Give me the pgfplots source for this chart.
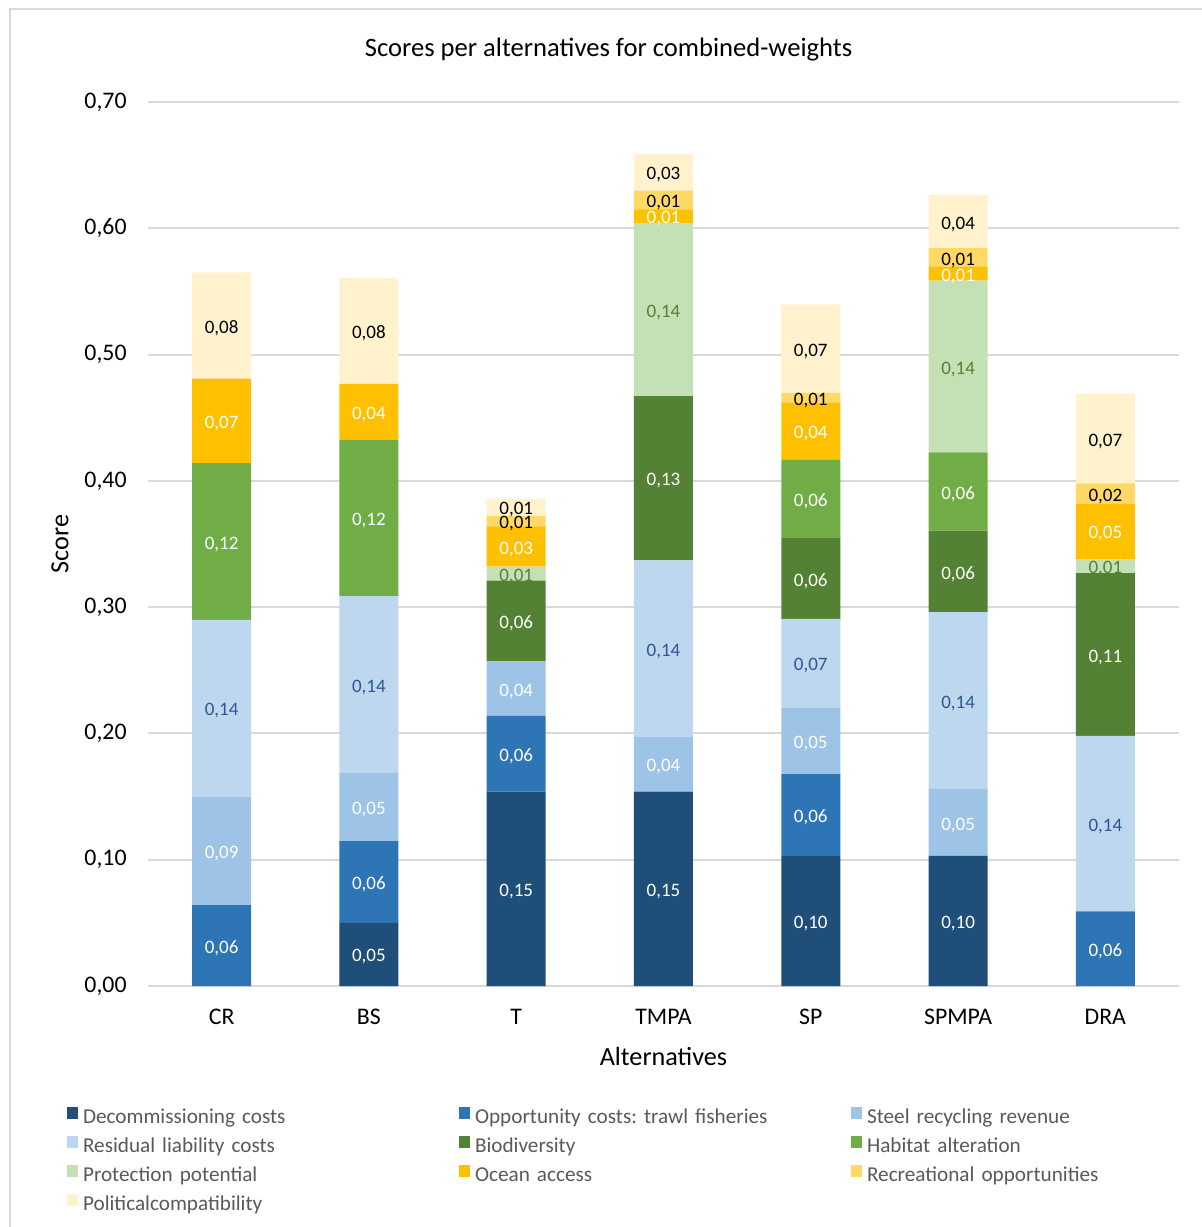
\documentclass[border=0pt]{standalone}
\usepackage{fontspec}
\setmainfont{Carlito}
\usepackage{pgfplots}
\usepackage{pgfplotstable}
\pgfplotsset{compat=1.18}
\frenchspacing
\definecolor{cdec}{HTML}{1F4E79}
\definecolor{copp}{HTML}{2E75B6}
\definecolor{cste}{HTML}{9DC3E6}
\definecolor{cres}{HTML}{BDD7EE}
\definecolor{cbio}{HTML}{548235}
\definecolor{chab}{HTML}{70AD47}
\definecolor{cpro}{HTML}{C5E0B4}
\definecolor{coce}{HTML}{FFC000}
\definecolor{crec}{HTML}{FFD966}
\definecolor{cpol}{HTML}{FFF2CC}
\definecolor{tres}{HTML}{2F5597}
\definecolor{tpro}{HTML}{548235}
\definecolor{gridc}{HTML}{D9D9D9}
\definecolor{legt}{HTML}{595959}

% x: 0=CR 1=BS 2=T 3=TMPA 4=SP 5=SPMPA 6=DRA
\pgfplotstableread{
x dec   opp    ste   res   bio    bioL hab   pro   oce   oceL rec    pol
0 0     0.064  0.086 0.140 0      0    0.124 0     0.067 0.07 0      0.084
1 0.050 0.0647 0.054 0.140 0      0    0.124 0     0.044 0.04 0      0.084
2 0.154 0.060  0.043 0     0.064  0.06 0     0.011 0.032 0.03 0.008  0.014
3 0.154 0      0.043 0.140 0.130  0.13 0     0.137 0.011 0.01 0.0148 0.029
4 0.103 0.0647 0.053 0.070 0.064  0.06 0.062 0     0.045 0.04 0.008  0.070
5 0.103 0      0.053 0.140 0.0645 0.06 0.062 0.136 0.011 0.01 0.0148 0.042
6 0     0.059  0     0.139 0.129  0.11 0     0.011 0.044 0.05 0.016  0.071
}\data

\pgfplotsset{
  seg/.style 2 args={
    fill=#1, draw=none,
    every node near coord/.append style={text=#2},
  },
}

\begin{document}
\begin{tikzpicture}
\begin{axis}[name=ax,
  scale only axis, width=515.5pt, height=442pt,
  ybar stacked, bar width=29.5pt,
  xmin=-0.5, xmax=6.5, ymin=0, ymax=0.7,
  xtick={0,1,2,3,4,5,6}, xticklabels={CR,BS,T,TMPA,SP,SPMPA,DRA},
  ytick={0,0.1,0.2,0.3,0.4,0.5,0.6,0.7},
  ymajorgrids, grid style={gridc, line width=1pt},
  axis line style={draw=none}, major tick length=0pt,
  /pgf/number format/assume math mode=true,
  point meta=explicit,
  nodes near coords={\pgfmathfloatifflags{\pgfplotspointmeta}{0}{}{\pgfmathprintnumber[fixed,fixed zerofill,precision=2,use comma]{\pgfplotspointmeta}}},
  every node near coord/.append style={anchor=center, yshift=-1.3pt, font=\fontsize{9.5}{10}\selectfont, inner sep=0pt},
  yticklabel style={/pgf/number format/.cd, fixed, fixed zerofill, precision=2, use comma, /tikz/.cd, font=\fontsize{11.9}{14}\selectfont, anchor=east, inner xsep=0pt, xshift=-10.5pt},
  xticklabel style={font=\fontsize{11.9}{14}\selectfont, anchor=base, yshift=-19.3pt},
  title={Scores per alternatives for combined-weights},
  title style={at={(axis description cs:0.4467,1.0452)}, anchor=center, font=\fontsize{13.3}{16}\selectfont},
  xlabel={Alternatives},
  xlabel style={at={(axis description cs:0.5,-0.0792)}, anchor=center, font=\fontsize{13.1}{16}\selectfont},
  ylabel={Score},
  ylabel style={at={(axis description cs:-0.0853,0.5)}, anchor=center, font=\fontsize{13.1}{16}\selectfont},
  legend columns=3,
  legend image code/.code={\fill[#1] (0pt,-0.3pt) rectangle (5.5pt,5.9pt);},
  legend style={at={(axis description cs:-0.0785,-0.1368)}, anchor=north west, draw=none, fill=none, inner sep=0pt, outer sep=0pt, row sep=3.6pt,
    font=\fontsize{10.6}{12}\selectfont, text=legt,
    nodes={text width=188pt, align=left, inner xsep=0pt, inner ysep=0pt, text height=7.5pt, text depth=2.5pt},
    /tikz/every odd column/.append style={column sep=2.5pt}},
]
\addplot[seg={cdec}{white}] table[x=x,y=dec,meta=dec]{\data};
\addlegendentry{Decommissioning costs}
\addplot[seg={copp}{white}] table[x=x,y=opp,meta=opp]{\data};
\addlegendentry{Opportunity costs: trawl fisheries}
\addplot[seg={cste}{white}] table[x=x,y=ste,meta=ste]{\data};
\addlegendentry{Steel recycling revenue}
\addplot[seg={cres}{tres}] table[x=x,y=res,meta=res]{\data};
\addlegendentry{Residual liability costs}
\addplot[seg={cbio}{white}] table[x=x,y=bio,meta=bioL]{\data};
\addlegendentry{Biodiversity}
\addplot[seg={chab}{white}] table[x=x,y=hab,meta=hab]{\data};
\addlegendentry{Habitat alteration}
\addplot[seg={cpro}{tpro}] table[x=x,y=pro,meta=pro]{\data};
\addlegendentry{Protection potential}
\addplot[seg={coce}{white}] table[x=x,y=oce,meta=oceL]{\data};
\addlegendentry{Ocean access}
\addplot[seg={crec}{black}] table[x=x,y=rec,meta=rec]{\data};
\addlegendentry{Recreational opportunities}
\addplot[seg={cpol}{black}] table[x=x,y=pol,meta=pol]{\data};
\addlegendentry{Politicalcompatibility}
\end{axis}
\draw[gridc, line width=1pt] ([xshift=-69pt,yshift=-125pt]ax.south west) -- ([xshift=-69pt,yshift=488.5pt]ax.south west) -- ([xshift=540pt,yshift=488.5pt]ax.south west);
\pgfresetboundingbox
\path[use as bounding box] ([xshift=-74pt,yshift=-120.5pt]ax.south west) rectangle ([xshift=527pt,yshift=493pt]ax.south west);
\end{tikzpicture}
\end{document}
